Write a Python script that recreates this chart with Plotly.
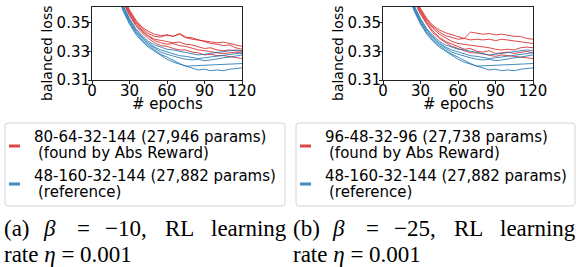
import plotly.graph_objects as go

W, H = 578, 267

epochs = [15, 20, 25, 30, 35, 40, 45, 50, 55, 60, 65, 70, 75, 80, 85, 90, 95, 100, 105, 110, 115, 120]

# Reference architecture runs (blue), shared by both panels
ref_runs = [
    [0.392, 0.374, 0.362, 0.353, 0.346, 0.341, 0.337, 0.3345, 0.333, 0.3315, 0.331, 0.330, 0.329, 0.3285, 0.3275, 0.328, 0.3285, 0.329, 0.3295, 0.3305, 0.331, 0.3305],
    [0.391, 0.373, 0.361, 0.352, 0.345, 0.340, 0.336, 0.333, 0.331, 0.3295, 0.328, 0.327, 0.3265, 0.326, 0.325, 0.3255, 0.326, 0.3265, 0.327, 0.328, 0.3285, 0.329],
    [0.390, 0.372, 0.360, 0.351, 0.344, 0.339, 0.335, 0.332, 0.3295, 0.328, 0.3265, 0.3255, 0.3245, 0.324, 0.3245, 0.3235, 0.324, 0.325, 0.3255, 0.326, 0.327, 0.3275],
    [0.389, 0.371, 0.359, 0.350, 0.343, 0.338, 0.334, 0.331, 0.328, 0.326, 0.3235, 0.3215, 0.3197, 0.3199, 0.3201, 0.3203, 0.3205, 0.3207, 0.3209, 0.3211, 0.3213, 0.3215],
    [0.388, 0.370, 0.358, 0.349, 0.342, 0.337, 0.333, 0.330, 0.327, 0.3245, 0.3225, 0.321, 0.3195, 0.318, 0.317, 0.3175, 0.3165, 0.317, 0.3165, 0.3175, 0.318, 0.3185],
]

# Runs found by Abs Reward, panel (a)
found_runs_a = [
    [0.398, 0.381, 0.368, 0.359, 0.352, 0.347, 0.344, 0.342, 0.341, 0.3415, 0.3405, 0.342, 0.3395, 0.3385, 0.338, 0.3375, 0.3365, 0.336, 0.3365, 0.3355, 0.3345, 0.3335],
    [0.397, 0.380, 0.367, 0.358, 0.351, 0.346, 0.3425, 0.3405, 0.340, 0.3415, 0.3405, 0.3425, 0.340, 0.3395, 0.338, 0.3365, 0.3355, 0.335, 0.334, 0.3345, 0.3325, 0.3315],
    [0.396, 0.379, 0.366, 0.357, 0.350, 0.345, 0.341, 0.3385, 0.3375, 0.3365, 0.336, 0.3365, 0.335, 0.3345, 0.333, 0.332, 0.3325, 0.331, 0.3305, 0.331, 0.3305, 0.330],
    [0.395, 0.378, 0.365, 0.356, 0.349, 0.344, 0.3405, 0.3375, 0.336, 0.335, 0.3355, 0.334, 0.3335, 0.332, 0.331, 0.3305, 0.3295, 0.329, 0.3285, 0.329, 0.3295, 0.3285],
    [0.394, 0.377, 0.364, 0.355, 0.348, 0.343, 0.339, 0.336, 0.334, 0.3335, 0.332, 0.331, 0.331, 0.3295, 0.329, 0.3275, 0.328, 0.327, 0.327, 0.3265, 0.326, 0.325],
]

# Runs found by Abs Reward, panel (b)
found_runs_b = [
    [0.399, 0.382, 0.369, 0.360, 0.353, 0.348, 0.345, 0.343, 0.3415, 0.3405, 0.339, 0.3435, 0.3425, 0.342, 0.3425, 0.3415, 0.342, 0.341, 0.3405, 0.3405, 0.339, 0.3385],
    [0.398, 0.381, 0.368, 0.359, 0.352, 0.347, 0.3435, 0.341, 0.3395, 0.3385, 0.339, 0.338, 0.3385, 0.338, 0.3385, 0.3375, 0.3385, 0.338, 0.3375, 0.3365, 0.336, 0.3355],
    [0.397, 0.380, 0.367, 0.358, 0.351, 0.346, 0.342, 0.3395, 0.337, 0.3355, 0.335, 0.334, 0.3335, 0.333, 0.3325, 0.3315, 0.331, 0.3315, 0.331, 0.3325, 0.333, 0.3325],
    [0.396, 0.379, 0.366, 0.357, 0.350, 0.344, 0.340, 0.337, 0.335, 0.333, 0.3315, 0.332, 0.330, 0.3295, 0.3305, 0.3285, 0.329, 0.3295, 0.3285, 0.3295, 0.330, 0.329],
    [0.395, 0.378, 0.365, 0.356, 0.349, 0.343, 0.339, 0.336, 0.3335, 0.332, 0.3305, 0.329, 0.329, 0.328, 0.327, 0.3265, 0.3275, 0.327, 0.326, 0.3255, 0.3255, 0.325],
]

x_ticks = [0, 30, 60, 90, 120]
y_ticks = [0.31, 0.33, 0.35]
y_tick_labels = ["0.31", "0.33", "0.35"]

legend_found = ["80-64-32-144 (27,946 params)", "96-48-32-96 (27,738 params)"]
legend_found2 = "(found by Abs Reward)"
legend_ref = "48-160-32-144 (27,882 params)"
legend_ref2 = "(reference)"
caption_tokens = [
    ["(a)", "<i>β</i>", "=", "−10,", "RL", "learning"],
    ["(b)", "<i>β</i>", "=", "−25,", "RL", "learning"],
]
caption_line2 = "rate <i>η</i> = 0.001"

RED = "rgba(214,39,40,0.85)"
BLUE = "rgba(31,119,180,0.85)"
SANS = "DejaVu Sans"
SERIF = "Liberation Serif"


def px(x):
    return x / W


def py(y):
    return 1 - y / H


fig = go.Figure()

panels = [("x", "y", found_runs_a), ("x2", "y2", found_runs_b)]
for xa, ya, found in panels:
    for run in found:
        fig.add_trace(go.Scatter(x=epochs, y=run, mode="lines", xaxis=xa, yaxis=ya,
                                 line=dict(color=RED, width=1), showlegend=False, hoverinfo="skip"))
    for run in ref_runs:
        fig.add_trace(go.Scatter(x=epochs, y=run, mode="lines", xaxis=xa, yaxis=ya,
                                 line=dict(color=BLUE, width=1), showlegend=False, hoverinfo="skip"))

axis_common = dict(showgrid=False, zeroline=False, showline=True, linecolor="#222", linewidth=1,
                   mirror=True, ticks="outside", ticklen=3, tickcolor="#222", tickwidth=1,
                   automargin=False,
                   tickfont=dict(family=SANS, size=15, color="black"))

plot_left = [92, 383]
plot_w = 150
plot_top, plot_bot = 7, 80

layout = dict(width=W, height=H, margin=dict(l=0, r=0, t=0, b=0, autoexpand=False),
              template="none",
              paper_bgcolor="white", plot_bgcolor="white", showlegend=False)
for i, L in enumerate(plot_left):
    sx = "" if i == 0 else "2"
    layout["xaxis" + sx] = dict(axis_common, domain=[px(L), px(L + plot_w)], range=[0, 120],
                                tickvals=x_ticks, anchor="y" + sx, ticklabelstandoff=-6)
    layout["yaxis" + sx] = dict(axis_common, domain=[py(plot_bot), py(plot_top)], range=[0.31, 0.361],
                                tickvals=y_ticks, ticktext=y_tick_labels, anchor="x" + sx,
                                ticklabelstandoff=-5)
fig.update_layout(**layout)

annotations = []
shapes = []


def ann(text, x, y, size, family=SANS, xanchor="left", yanchor="middle", angle=0):
    annotations.append(dict(text=text, x=px(x), y=py(y), xref="paper", yref="paper",
                            showarrow=False, xanchor=xanchor, yanchor=yanchor, textangle=angle,
                            font=dict(family=family, size=size, color="black")))


legend_boxes = [(5, 285), (296, 575)]
box_top, box_bot = 123, 206
for i, L in enumerate(plot_left):
    # axis titles
    ann("# epochs", L + plot_w / 2, 104, 15, xanchor="center")
    ann("balanced loss", L - 45, 53, 14, xanchor="center", angle=-90)
    # legend box with rounded corners
    x0, x1 = legend_boxes[i]
    r = 3
    path = (f"M {px(x0 + r)},{py(box_top)} L {px(x1 - r)},{py(box_top)} "
            f"Q {px(x1)},{py(box_top)} {px(x1)},{py(box_top + r)} "
            f"L {px(x1)},{py(box_bot - r)} Q {px(x1)},{py(box_bot)} {px(x1 - r)},{py(box_bot)} "
            f"L {px(x0 + r)},{py(box_bot)} Q {px(x0)},{py(box_bot)} {px(x0)},{py(box_bot - r)} "
            f"L {px(x0)},{py(box_top + r)} Q {px(x0)},{py(box_top)} {px(x0 + r)},{py(box_top)} Z")
    shapes.append(dict(type="path", path=path, xref="paper", yref="paper",
                       line=dict(color="#d4d4d4", width=1), fillcolor="white", layer="below"))
    # handles
    for yy, col in [(146, RED), (184, BLUE)]:
        shapes.append(dict(type="line", xref="paper", yref="paper", x0=px(x0 + 4), x1=px(x0 + 15),
                           y0=py(yy), y1=py(yy), line=dict(color=col, width=3)))
    tx = x0 + 27
    ann(legend_found[i], tx, 137, 15)
    ann(legend_found2, tx + 4, 153, 15)
    ann(legend_ref, tx, 176, 15)
    ann(legend_ref2, tx + 4, 192, 15)

# captions (justified first line)
cap_x = [2, 41, 75, 103, 163]
for i, toks in enumerate(caption_tokens):
    off = 0 if i == 0 else 289
    for j, t in enumerate(toks[:-1]):
        ann(t, cap_x[j] + off, 243, 23, family=SERIF, yanchor="bottom")
    ann(toks[-1], 289 + off, 243, 23, family=SERIF, xanchor="right", yanchor="bottom")
    ann(caption_line2, 2 + off, 269, 23, family=SERIF, yanchor="bottom")

fig.update_layout(annotations=annotations, shapes=shapes)
fig.write_html("out.html", config={"displayModeBar": False, "staticPlot": True},
               post_script="document.body.style.margin='0px';")
